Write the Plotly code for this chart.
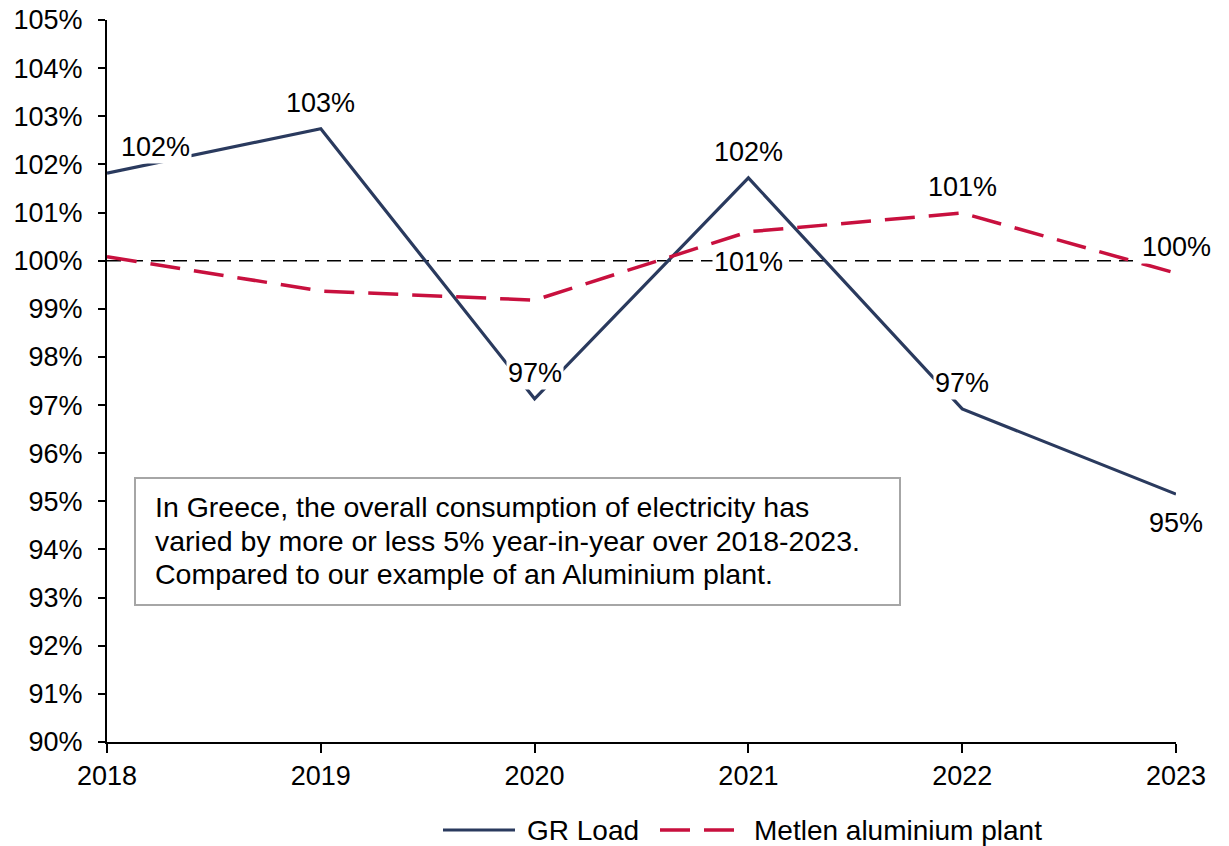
import plotly.graph_objects as go

years = [2018, 2019, 2020, 2021, 2022, 2023]
gr_load = [1.0182, 1.0274, 0.9713, 1.0172, 0.9692, 0.9515]
metlen = [1.0008, 0.9937, 0.9918, 1.0060, 1.0099, 0.9974]
series_names = ["GR Load", "Metlen aluminium plant"]

# label placement offsets (pixels, +y = up) per point; None = no label
gr_label_shift = [(48, 26), (0, 26), (0, 26), (0, 26), (0, 26), (0, -29)]
metlen_label_shift = [None, None, None, (0, -30), (0, 26), (0, 26)]

note_lines = ["In Greece, the overall consumption of electricity has",
              "varied by more or less 5% year-in-year over 2018-2023.",
              "Compared to our example of an Aluminium plant."]

FONT = "Liberation Sans, Arial, sans-serif"
NAVY = "#2a3a5e"
RED = "#c8103e"
W, H = 1229, 846
L, R, T, B = 107, 53, 20, 104
PW, PH = W - L - R, H - T - B


def px(x):
    return (x - L) / PW


def py(y):
    return (H - B - y) / PH


fig = go.Figure()
fig.add_trace(go.Scatter(x=years, y=gr_load, mode="lines", name=series_names[0],
                         line=dict(color=NAVY, width=3.2), cliponaxis=False, showlegend=False))
fig.add_trace(go.Scatter(x=years, y=metlen, mode="lines", name=series_names[1],
                         line=dict(color=RED, width=3.5, dash="30px,14px"), cliponaxis=False,
                         showlegend=False))

fig.add_shape(type="line", xref="paper", x0=0, x1=1, yref="y", y0=1.0, y1=1.0,
              line=dict(color="black", width=1.5, dash="14px,8px"), layer="below")

annotations = []
for vals, shifts in ((gr_load, gr_label_shift), (metlen, metlen_label_shift)):
    for x, v, s in zip(years, vals, shifts):
        if s is None:
            continue
        annotations.append(dict(x=x, y=v, xref="x", yref="y", text=f"{round(v*100):.0f}%",
                                showarrow=False, xshift=s[0], yshift=s[1], bgcolor="white",
                                borderpad=1, font=dict(size=27, color="black", family=FONT)))

# note box
fig.add_shape(type="rect", xref="paper", yref="paper", x0=px(135), x1=px(900),
              y0=py(605), y1=py(478), line=dict(color="#a6a6a6", width=2),
              fillcolor="white", layer="above")
for i, line in enumerate(note_lines):
    annotations.append(dict(x=px(153), y=py(507 + 33.5 * i), xref="paper", yref="paper",
                            xanchor="left", yanchor="middle", text=line, showarrow=False,
                            font=dict(size=28.5, color="black", family=FONT)))

# legend (drawn manually to match sample lengths)
ly = py(830)
fig.add_shape(type="line", xref="paper", yref="paper", x0=px(443), x1=px(515), y0=ly, y1=ly,
              line=dict(color=NAVY, width=3.2))
annotations.append(dict(x=px(525), y=ly, xref="paper", yref="paper", xanchor="left",
                        yanchor="middle", text=series_names[0], showarrow=False,
                        font=dict(size=28, color="black", family=FONT)))
fig.add_shape(type="line", xref="paper", yref="paper", x0=px(660), x1=px(740), y0=ly, y1=ly,
              line=dict(color=RED, width=3.5, dash="30px,14px"))
annotations.append(dict(x=px(752), y=ly, xref="paper", yref="paper", xanchor="left",
                        yanchor="middle", text=series_names[1], showarrow=False,
                        font=dict(size=28, color="black", family=FONT)))

fig.update_layout(
    width=W, height=H,
    margin=dict(l=L, r=R, t=T, b=B, autoexpand=False),
    paper_bgcolor="white", plot_bgcolor="white",
    font=dict(family=FONT, size=27, color="black"),
    annotations=annotations,
    showlegend=False,
    xaxis=dict(range=[2018, 2023], tickmode="array", tickvals=years,
               ticktext=[str(y) for y in years], showgrid=False, zeroline=False,
               showline=True, linecolor="black", linewidth=2, automargin=False,
               ticks="outside", ticklen=9, tickwidth=2, tickcolor="black",
               tickfont=dict(size=27, color="black", family=FONT)),
    yaxis=dict(range=[0.90, 1.05], dtick=0.01, tick0=0.90, tickformat=".0%",
               showgrid=False, zeroline=False, showline=True, linecolor="black",
               linewidth=2, ticks="outside", ticklen=7, tickwidth=2, tickcolor="black",
               ticklabelstandoff=10, automargin=False,
               tickfont=dict(size=27, color="black", family=FONT)),
)

fig.write_html("out.html")
